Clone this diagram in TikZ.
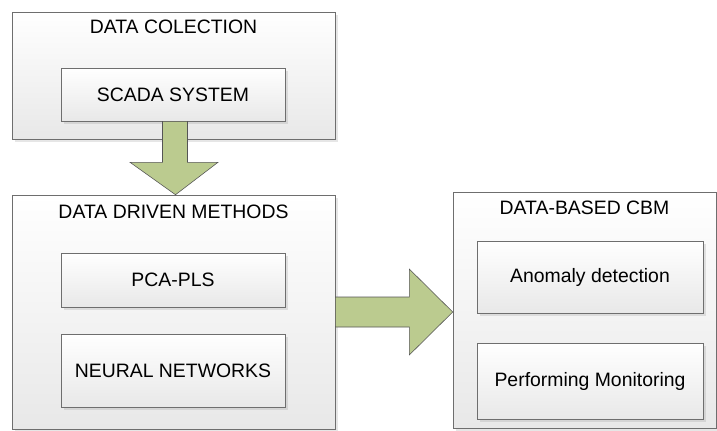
\documentclass[tikz,border=0pt]{standalone}
\usepackage{fontspec}
\setmainfont{Liberation Sans}
\usetikzlibrary{calc,shadows}
\definecolor{reuna}{HTML}{6E6E6E}
\definecolor{harmaa}{HTML}{E8E8E8}
\definecolor{oliivi}{HTML}{BBCB8F}
\definecolor{oliivireuna}{HTML}{555555}
\tikzset{
	laatikko/.style={draw=reuna, top color=white, bottom color=harmaa, inner sep=0pt,
		drop shadow={shadow xshift=2pt, shadow yshift=-2pt, opacity=0.2, fill=gray}},
	otsikko/.style={font=\fontsize{13.8}{16}\selectfont, inner sep=0pt},
	nuoli/.style={draw=oliivireuna, fill=oliivi, line join=miter}
}
\begin{document}
\begin{tikzpicture}[x=0.025cm, y=-0.025cm]
				\useasboundingbox (0,0) rectangle (717,430);
				\node[laatikko, minimum width=323*0.025cm, minimum height=127*0.025cm] (keruu) at (173.5,75.5) {};
				\node[laatikko, minimum width=323*0.025cm, minimum height=234*0.025cm] (menetelmat) at (173.5,312) {};
				\node[laatikko, minimum width=263*0.025cm, minimum height=236*0.025cm] (cbm) at (584.5,310) {};
				\node[laatikko, otsikko, minimum width=224*0.025cm, minimum height=53*0.025cm] (scada) at (173,94.5) {SCADA SYSTEM};
				\node[laatikko, otsikko, minimum width=224*0.025cm, minimum height=54*0.025cm] (pca) at (173,280) {PCA-PLS};
				\node[laatikko, otsikko, minimum width=224*0.025cm, minimum height=73*0.025cm] (neuro) at (173,370.5) {NEURAL NETWORKS};
				\node[laatikko, otsikko, minimum width=226*0.025cm, minimum height=72*0.025cm] (anomalia) at (590,277) {Anomaly detection};
				\node[laatikko, otsikko, minimum width=226*0.025cm, minimum height=76*0.025cm] (seuranta) at (590,381) {Performing Monitoring};
				\node[otsikko] (keruuotsikko) at (173.5,27) {DATA COLECTION};
				\node[otsikko] (menetelmaotsikko) at (173.5,212) {DATA DRIVEN METHODS};
				\node[otsikko] (cbmotsikko) at (584.5,208) {DATA-BASED CBM};
				\draw[nuoli] ($(scada.south)+(-10.5,0)$) -- ($(scada.south)+(14.5,0)$) -- ($(scada.south)+(14.5,41)$) -- ($(scada.south)+(45,41)$) -- ($(menetelmat.north)+(2,0)$) -- ($(scada.south)+(-43,41)$) -- ($(scada.south)+(-10.5,41)$) -- cycle;
				\draw[nuoli] ($(menetelmat.east)+(0,-15)$) -- ($(menetelmat.east)+(74,-15)$) -- ($(menetelmat.east)+(74,-43)$) -- ($(cbm.west)+(0,2)$) -- ($(menetelmat.east)+(74,43)$) -- ($(menetelmat.east)+(74,15)$) -- ($(menetelmat.east)+(0,15)$) -- cycle;
			\end{tikzpicture}
\end{document}
